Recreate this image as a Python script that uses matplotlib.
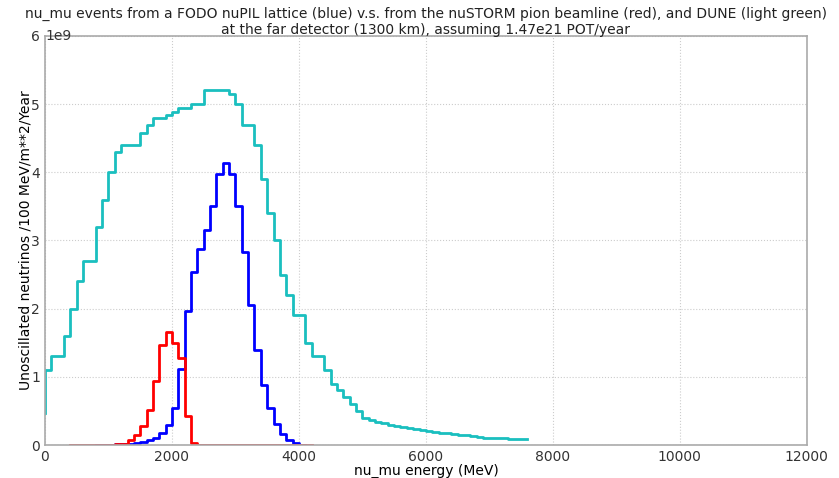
"""
Unoscillated nu_mu flux at the far detector: FODO nuPIL lattice vs the
nuSTORM pion beamline vs DUNE. Values read per 100 MeV bin, units of 1e9.
Energies are bin right edges (first entry is the start of the curve).
"""

import matplotlib
matplotlib.use("Agg")
import matplotlib.pyplot as plt
from matplotlib.ticker import FuncFormatter
import numpy as np


# DUNE (light green / cyan)
dune_energy = [0, 100, 300, 400, 500, 600, 800, 900, 1000, 1100, 1200, 1500,
               1600, 1700, 1900, 2000, 2100, 2300, 2500, 2900, 3000, 3100,
               3300, 3400, 3500, 3600, 3700, 3800, 3900, 4100, 4200, 4400,
               4500, 4600, 4700, 4800, 4900, 5000, 5100, 5200, 5300, 5400,
               5500, 5600, 5700, 5800, 5900, 6000, 6100, 6200, 6300, 6400,
               6500, 6600, 6700, 6800, 6900, 7000, 7100, 7200, 7300, 7400,
               7500, 7600]
dune_flux = [0.47, 1.10, 1.30, 1.60, 2.00, 2.40, 2.70, 3.20, 3.60, 4.00, 4.30,
             4.40, 4.58, 4.69, 4.79, 4.84, 4.89, 4.94, 5.00, 5.20, 5.15, 5.00,
             4.70, 4.40, 3.90, 3.40, 3.00, 2.50, 2.20, 1.90, 1.50, 1.30, 1.10,
             0.90, 0.80, 0.70, 0.60, 0.50, 0.40, 0.36, 0.34, 0.32, 0.30, 0.28,
             0.27, 0.25, 0.23, 0.22, 0.20, 0.19, 0.18, 0.17, 0.16, 0.15, 0.14,
             0.13, 0.12, 0.11, 0.105, 0.10, 0.10, 0.095, 0.09, 0.09]

# nuPIL FODO lattice (blue)
nupil_energy = [800, 900, 1000, 1100, 1200, 1300, 1400, 1500, 1600, 1700,
                1800, 1900, 2000, 2100, 2200, 2300, 2400, 2500, 2600, 2700,
                2800, 2900, 3000, 3100, 3200, 3300, 3400, 3500, 3600, 3700,
                3800, 3900, 4000, 4100]
nupil_flux = [0.0, 0.002, 0.004, 0.006, 0.008, 0.01, 0.02, 0.03, 0.05, 0.07,
              0.11, 0.18, 0.29, 0.55, 1.12, 1.96, 2.53, 2.88, 3.15, 3.50,
              3.97, 4.13, 3.98, 3.51, 2.83, 2.05, 1.40, 0.88, 0.54, 0.31,
              0.16, 0.07, 0.025, 0.005]

# nuSTORM pion beamline (red)
nustorm_energy = [400, 500, 600, 700, 800, 900, 1000, 1100, 1200, 1300,
                  1400, 1500, 1600, 1700, 1800, 1900, 2000, 2100, 2200, 2300,
                  2400, 3000, 3600, 4200]
nustorm_flux = [0.0, 0.0, 0.0, 0.0, 0.0, 0.001, 0.002, 0.004, 0.008, 0.02,
                0.07, 0.15, 0.28, 0.52, 0.94, 1.47, 1.65, 1.49, 1.27, 0.43,
                0.03, 0.002, 0.0, 0.0]

TITLE = ("nu_mu events from a FODO nuPIL lattice (blue) v.s. from the nuSTORM "
         "pion beamline (red), and DUNE (light green)\n"
         "at the far detector (1300 km), assuming 1.47e21 POT/year")


def draw_step(ax, energy, flux, color):
    # histogram-like step, flux applies to the bin ending at each energy
    ax.step(energy, np.array(flux) * 1e9, where="pre",
            color=color, linewidth=2)


def main():
    fig = plt.figure(figsize=(8.39, 4.78), dpi=100)
    ax = fig.add_axes([0.0536, 0.069, 0.908, 0.856])

    draw_step(ax, dune_energy, dune_flux, (0.1, 0.75, 0.75))
    draw_step(ax, nupil_energy, nupil_flux, "b")
    draw_step(ax, nustorm_energy, nustorm_flux, "r")

    ax.set_xlim(0, 12000)
    ax.set_ylim(0, 6e9)
    ax.set_xticks(np.arange(0, 12001, 2000))
    ax.yaxis.set_major_formatter(FuncFormatter(lambda v, pos: f"{v / 1e9:g}"))
    # old-style offset label, sitting on the top spine
    ax.text(0.0, 1.0, "1e9", transform=ax.transAxes, ha="left", va="center",
            fontsize=10, color="#333333")

    ax.grid(True, linestyle=":", color="#cccccc", linewidth=0.8)
    ax.tick_params(length=0, labelsize=10, colors="#333333")
    for spine in ax.spines.values():
        spine.set_color("#aaaaaa")
        spine.set_linewidth(1.2)

    ax.set_title(TITLE, fontsize=10, color="#222222", y=1.0, pad=1)
    ax.set_xlabel("nu_mu energy (MeV)", fontsize=10)
    ax.set_ylabel("Unoscillated neutrinos /100 MeV/m**2/Year", fontsize=10)
    ax.xaxis.set_label_coords(0.5, -0.045)
    ax.yaxis.set_label_coords(-0.016, 0.5)

    fig.savefig("out.png", dpi=100)
    plt.close(fig)


if __name__ == "__main__":
    main()
